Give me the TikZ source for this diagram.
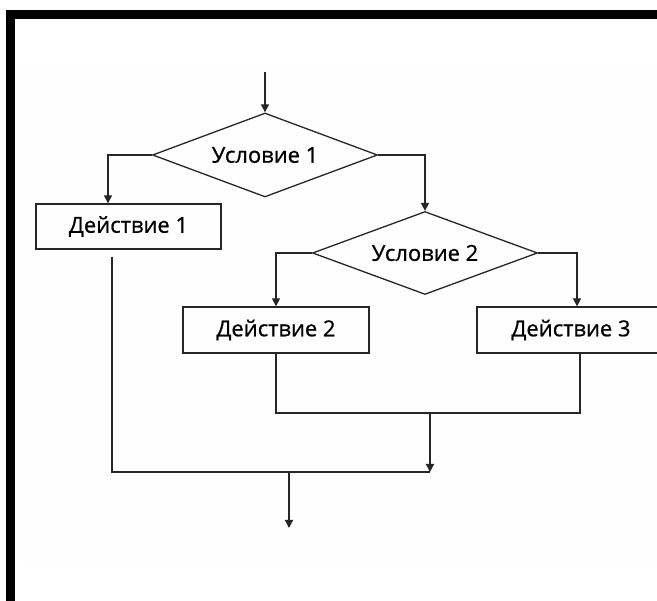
\documentclass[tikz,border=0pt]{standalone}
\usepackage{fontspec}
\setmainfont{Open Sans}
\newfontfamily\etiqfont[FakeBold=0.8]{Open Sans}
\usepackage{tikz}
\usetikzlibrary{calc,arrows.meta,positioning,shapes.geometric}
\definecolor{linea}{HTML}{262626}
\definecolor{fondo}{HTML}{FEFEFE}

\tikzset{
  cond/.style={diamond,draw=linea,line width=1.3pt,shape aspect=2.68,minimum width=225pt,
               minimum height=84pt,inner sep=0pt,font=\etiqfont\fontsize{22}{25}\selectfont},
  accion/.style={rectangle,draw=linea,line width=1.3pt,minimum width=186pt,
                 minimum height=46pt,inner sep=0pt,font=\etiqfont\fontsize{22}{25}\selectfont},
  flujo/.style={draw=linea,line width=1.3pt},
}

\begin{document}
\begin{tikzpicture}[x=1pt,y=1pt,>={Triangle[width=8pt,length=8pt]},line cap=butt]
        \useasboundingbox (0,0) rectangle (657,601);
        % marco
        \fill[fondo] (20,39) rectangle (657,538);
        \fill[black] (6,582) rectangle (657,591);
        \fill[black] (6,0) rectangle (15,591);
        % bloques
        \node[cond] (c1) at (265,446) {Условие 1};
        \node[cond,minimum height=83pt] (c2) at (425,348) {Условие 2};
        \node[accion,minimum width=185pt,minimum height=45pt] (a1) at (128.5,374.5) {Действие 1};
        \node[accion] (a2) at (276,271) {Действие 2};
        \node[accion,minimum width=188pt] (a3) at (571,271) {Действие 3};
        \coordinate (entrada) at (265,529);
        \coordinate (j2) at (430,188);
        \coordinate (j1) at (430,129);
        \coordinate (salida) at (289,73);
        % conexiones
        \draw[flujo,->] (entrada) -- (c1.north);
        \draw[flujo,->] (c1.west) -| ([xshift=-20.5pt]a1.north);
        \draw[flujo,->] (c1.east) -| (c2.north);
        \draw[flujo,->] (c2.west) -| (a2.north);
        \draw[flujo,->] (c2.east) -| ([xshift=6pt]a3.north);
        \draw[flujo] (a2.south) |- (j2) -| ([xshift=9pt]a3.south);
        \draw[flujo,->] (j2) -- (j1);
        \draw[flujo] ([xshift=-16.5pt,yshift=-7pt]a1.south) |- (j1);
        \draw[flujo,->] (salida |- j1) -- (salida);
      \end{tikzpicture}
\end{document}
